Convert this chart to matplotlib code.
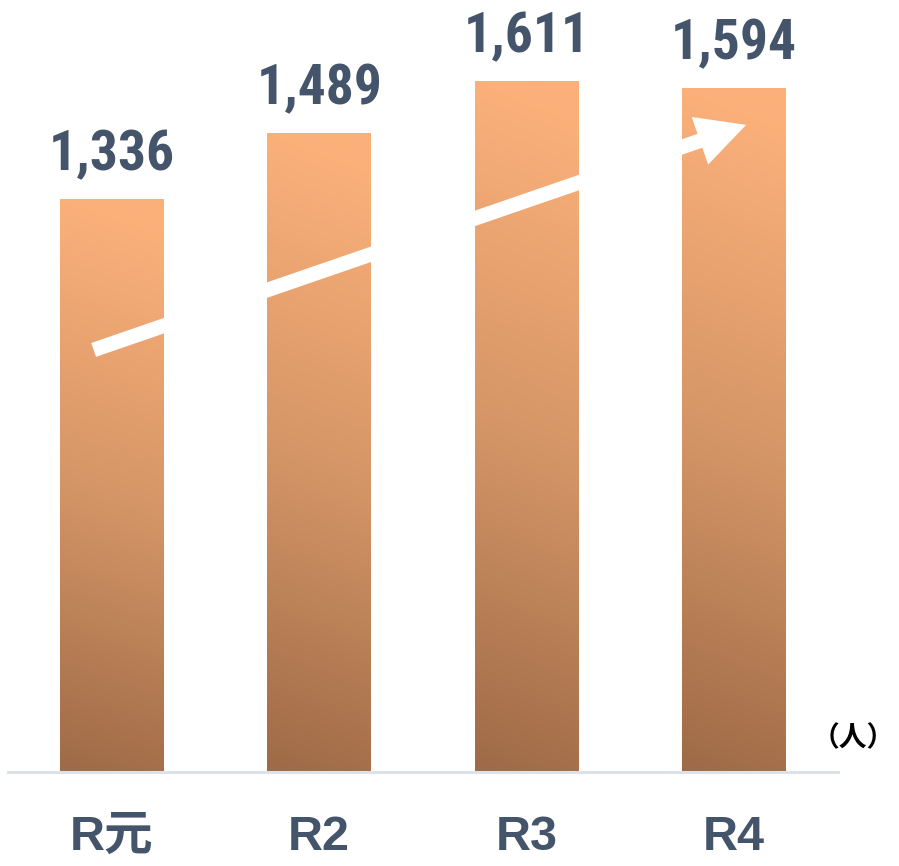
import matplotlib.pyplot as plt
import numpy as np
from matplotlib.colors import LinearSegmentedColormap
from matplotlib import font_manager

years = ["R元", "R2", "R3", "R4"]
counts = [1336, 1489, 1611, 1594]
unit = "（人）"

names = {f.name for f in font_manager.fontManager.ttflist}
num_font = "Liberation Sans"
for cand in ["Liberation Sans Narrow", "Arial Narrow", "Roboto Condensed"]:
    if cand in names:
        num_font = cand
        break
label_fonts = ["Liberation Sans", "Noto Sans CJK JP", "DejaVu Sans"]
text_color = "#44546a"

fig = plt.figure(figsize=(8.99, 8.66), dpi=100)
ax = fig.add_axes([8 / 899, (866 - 772) / 866, 830 / 899, 772 / 866])
ax.set_xlim(-0.5, 3.5)
ax.set_ylim(0, 1800)
ax.axis("off")

cmap = LinearSegmentedColormap.from_list("bar", ["#9e6a47", "#d49566", "#fbb07a"])
grad = np.linspace(0, 1, 256).reshape(-1, 1)
side = np.linspace(0, 0.06, 64).reshape(1, -1)
img = np.clip(grad + side, 0, 1)

x = np.arange(len(years))
width = 0.5
bars = ax.bar(x, counts, width=width, color="none", edgecolor="none")
for b, v in zip(bars, counts):
    x0 = b.get_x()
    im = ax.imshow(img, extent=[x0, x0 + width, 0, v], origin="lower",
                   cmap=cmap, vmin=0, vmax=1, aspect="auto", zorder=1)
    im.set_clip_path(b)
    ax.annotate(f"{v:,}", (b.get_x() + width / 2, v), xytext=(0, 21),
                textcoords="offset points", ha="center", va="baseline",
                fontsize=40, fontweight="bold", color=text_color,
                family=[num_font, "DejaVu Sans"])

ax.set_ylim(0, 1800)

# trend arrow
ax.annotate("", xy=(3.07, 1511), xytext=(-0.1, 982),
            arrowprops=dict(arrowstyle="simple,head_length=1.6,head_width=1.65,tail_width=0.48",
                            color="white", lw=0, mutation_scale=22),
            zorder=3)

# baseline
ax.plot([-0.5, 3.5], [0, 0], color="#dde1e8", lw=2.2, clip_on=False, zorder=2)

for xi, lab in zip(x, years):
    ax.annotate(lab, (xi, 0), xytext=(0, -56), textcoords="offset points",
                ha="center", va="baseline", fontsize=35, fontweight="bold",
                color=text_color, family=label_fonts)

fig.text(853 / 899, 1 - 738 / 866, unit, ha="center", va="center", fontsize=20,
         fontweight="bold", color="black", family=["Noto Sans CJK JP", "DejaVu Sans"])

fig.savefig("out.png", dpi=100)
